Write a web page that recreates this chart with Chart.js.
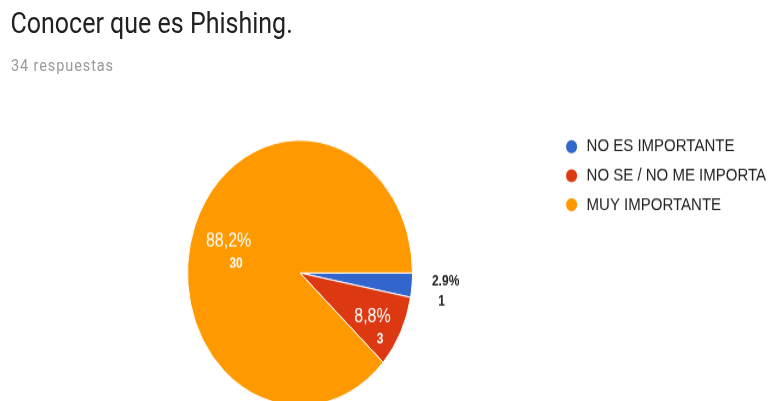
<!DOCTYPE html>
<html>
<head>
<meta charset="utf-8">
<script src="https://cdn.jsdelivr.net/npm/chart.js"></script>
<style>
  html { overflow: hidden; }
  body { margin: 0; padding: 0; background: #fff; width: 770px; height: 401px; }
  /* the reference is a screenshot squeezed wider than tall, so everything is stretched vertically */
  #wrap { position: relative; width: 770px; height: 340px; transform: scaleY(1.18); transform-origin: 0 0; }
  #title { position: absolute; left: 10.5px; top: 4.6px; font: 25px/30px Roboto, sans-serif; color: #212121; white-space: nowrap; }
  #subtitle { position: absolute; left: 11px; top: 46.5px; font: 14.5px/17px Roboto, sans-serif; letter-spacing: 0.9px; color: #9a9a9a; white-space: nowrap; }
  #chart { position: absolute; left: 0; top: 0; }
</style>
</head>
<body>
<div id="wrap">
  <canvas id="chart" width="770" height="360" style="width:770px;height:360px"></canvas>
  <div id="title">Conocer que es Phishing.</div>
  <div id="subtitle">34 respuestas</div>
</div>
<script>
const labels = ['NO ES IMPORTANTE', 'NO SE / NO ME IMPORTA', 'MUY IMPORTANTE'];
const counts = [1, 3, 30];
const colors = ['#3366cc', '#dc3912', '#ff9900'];

const chartFont = '"Liberation Sans", Arial, sans-serif';

// percentage + count on each slice, google forms style
const sliceLabels = {
    id: 'sliceLabels',
    afterDatasetsDraw(chart) {
        const ctx = chart.ctx;
        const meta = chart.getDatasetMeta(0);
        const total = counts.reduce((a, b) => a + b, 0);
        meta.data.forEach((arc, i) => {
            const { x, y, startAngle, endAngle, outerRadius } =
                arc.getProps(['x', 'y', 'startAngle', 'endAngle', 'outerRadius'], true);
            const mid = (startAngle + endAngle) / 2;
            const pct = counts[i] / total * 100;
            const inside = pct >= 5;
            const r = outerRadius * (inside ? 0.7 : 1.3);
            const px = x + Math.cos(mid) * r;
            const py = y + Math.sin(mid) * r;
            ctx.save();
            ctx.textAlign = 'center';
            ctx.textBaseline = 'middle';
            if (inside) {
                ctx.fillStyle = '#fff';
                ctx.font = '16px ' + chartFont;
                ctx.fillText(pct.toFixed(1).replace('.', ',') + '%', px + 2, py + 2);
                ctx.font = 'bold 12px ' + chartFont;
                ctx.fillText(String(counts[i]), px + 9.5, py + 21);
            } else {
                ctx.fillStyle = '#222';
                ctx.font = 'bold 12px ' + chartFont;
                ctx.fillText(pct.toFixed(1) + '%', px, py - 6);
                ctx.fillText(String(counts[i]), px - 4, py + 11);
            }
            ctx.restore();
        });
    }
};

new Chart(document.getElementById('chart').getContext('2d'), {
    type: 'pie',
    data: {
        labels: labels,
        datasets: [{
            data: counts,
            backgroundColor: colors,
            borderColor: '#fff',
            borderWidth: 1,
            hoverOffset: 0
        }]
    },
    options: {
        responsive: false,
        animation: false,
        devicePixelRatio: 1,
        rotation: 90,
        radius: 112.5,
        layout: {
            padding: { left: 45.5, top: 107.2, right: 0, bottom: 4.6 }
        },
        plugins: {
            tooltip: { enabled: false },
            legend: {
                position: 'right',
                align: 'start',
                maxWidth: 215.5,
                labels: {
                    usePointStyle: true,
                    pointStyle: 'circle',
                    boxWidth: 15,
                    boxHeight: 8.5,
                    padding: 9.6,
                    color: '#222',
                    font: { family: chartFont, size: 15 }
                }
            }
        }
    },
    plugins: [sliceLabels]
});
</script>
</body>
</html>
